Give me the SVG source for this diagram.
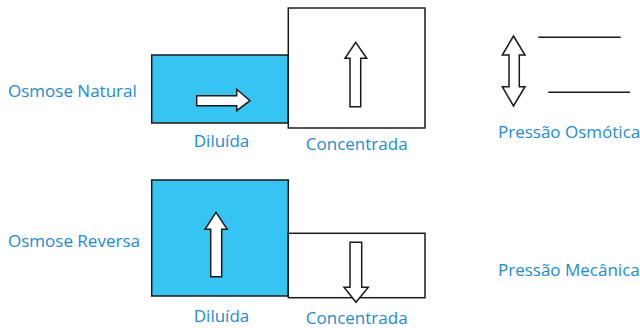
<svg xmlns="http://www.w3.org/2000/svg" width="640" height="328" viewBox="0 0 640 328">
  <style>
    .lbl { font-family: "Open Sans", "Noto Sans", "Liberation Sans", sans-serif; font-size: 17px; fill: #1b8bd6; }
    .mid { text-anchor: middle; }
    .box { stroke: #1a1a1a; stroke-width: 1.5; }
    .water { fill: #36c5f2; }
    .empty { fill: #ffffff; }
    .arrow { fill: #ffffff; stroke: #1a1a1a; stroke-width: 1.5; stroke-linejoin: miter; }
    .level { stroke: #1a1a1a; stroke-width: 1.5; fill: none; }
  </style>

  <!-- Row labels -->
  <g id="label-natural"><text class="lbl" x="8" y="97">Osmose Natural</text></g>
  <g id="label-reversa"><text class="lbl" x="8" y="247">Osmose Reversa</text></g>

  <!-- Natural osmosis: dilute side -->
  <g id="natural-diluida">
    <rect class="box water" x="151.7" y="55" width="136.6" height="68"/>
    <path class="arrow" d="M196.7,95.7 H236.7 V89.3 L250,100.7 L236.7,110.7 V105.7 H196.7 Z"/>
    <text class="lbl mid" x="221.5" y="146.5">Diluída</text>
  </g>

  <!-- Natural osmosis: concentrated side -->
  <g id="natural-concentrada">
    <rect class="box empty" x="288.3" y="8" width="136.7" height="120"/>
    <path class="arrow" d="M350,106.7 V58.3 H345 L355.7,42.3 L366.7,58.3 H360.7 V106.7 Z"/>
    <text class="lbl mid" x="356.7" y="150">Concentrada</text>
  </g>

  <!-- Reverse osmosis: dilute side -->
  <g id="reversa-diluida">
    <rect class="box water" x="151.7" y="180" width="136.6" height="116"/>
    <path class="arrow" d="M210.7,276.7 V229.3 H205 L216,212.3 L227.3,229.3 H221.7 V276.7 Z"/>
    <text class="lbl mid" x="221.5" y="321.5">Diluída</text>
  </g>

  <!-- Reverse osmosis: concentrated side -->
  <g id="reversa-concentrada">
    <rect class="box empty" x="288.3" y="233.3" width="136.7" height="64.4"/>
    <path class="arrow" d="M350,242.3 H361.7 V287.3 H368.3 L356,302.3 L344,287.3 H350 Z"/>
    <text class="lbl mid" x="356.7" y="324">Concentrada</text>
  </g>

  <!-- Osmotic pressure indicator -->
  <g id="pressao-osmotica">
    <path class="arrow" d="M513.5,36 L525,55 H519.3 V86.7 H525 L513.5,106 L502.3,86.7 H509 V55 H502.3 Z"/>
    <line class="level" x1="538.3" y1="37.3" x2="620.7" y2="37.3"/>
    <line class="level" x1="548.3" y1="92.3" x2="630" y2="92.3"/>
    <text class="lbl" x="498" y="138">Pressão Osmótica</text>
  </g>

  <!-- Mechanical pressure label -->
  <g id="pressao-mecanica"><text class="lbl" x="498" y="275.5">Pressão Mecânica</text></g>
</svg>
